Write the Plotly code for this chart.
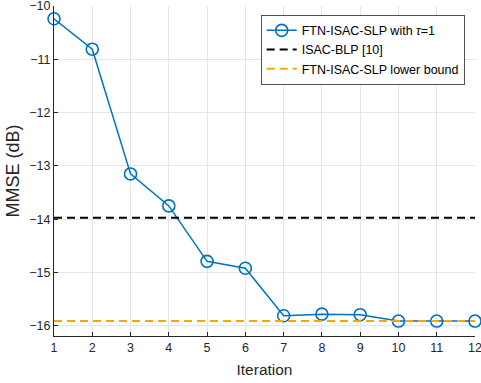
import plotly.graph_objects as go

iterations = [1, 2, 3, 4, 5, 6, 7, 8, 9, 10, 11, 12]
mmse_slp = [-10.24, -10.81, -13.15, -13.75, -14.79, -14.92, -15.81, -15.78, -15.79, -15.91, -15.91, -15.91]
blp_value = -13.97
lower_bound = -15.91
x_ticks = list(range(1, 13))
y_ticks = [-16, -15, -14, -13, -12, -11, -10]

FONT = "Arial, Liberation Sans"

fig = go.Figure()
fig.add_trace(go.Scatter(
    x=iterations, y=mmse_slp, mode="lines+markers",
    name="FTN-ISAC-SLP with <i>τ</i>=1",
    line=dict(color="#0072BD", width=1.5),
    marker=dict(symbol="circle-open", size=12, color="#0072BD", line=dict(width=1.6)),
    cliponaxis=False,
))
fig.add_trace(go.Scatter(
    x=[iterations[0], iterations[-1]], y=[blp_value, blp_value], mode="lines",
    name="ISAC-BLP [10]",
    line=dict(color="black", width=2, dash="8px,5px"),
))
fig.add_trace(go.Scatter(
    x=[iterations[0], iterations[-1]], y=[lower_bound, lower_bound], mode="lines",
    name="FTN-ISAC-SLP lower bound",
    line=dict(color="#FFA500", width=2, dash="8px,5px"),
))

axis_common = dict(
    showline=True, linecolor="#262626", linewidth=1,
    ticks="inside", ticklen=4, tickcolor="#262626",
    showgrid=True, gridcolor="#E6E6E6", gridwidth=1,
    zeroline=False, mirror=False, automargin=False,
    ticklabeloverflow="allow",
    tickfont=dict(family=FONT, size=12.5, color="#262626"),
)
fig.update_xaxes(range=[1, 12], tickvals=x_ticks,
                 title=dict(text="Iteration", standoff=10,
                            font=dict(family=FONT, size=15.5, color="#262626")),
                 **axis_common)
fig.update_yaxes(range=[-16.19, -10], tickvals=y_ticks,
                 title=dict(text="MMSE (dB)", standoff=4,
                            font=dict(family=FONT, size=18, color="#262626")),
                 **axis_common)

fig.update_layout(
    width=481, height=383,
    margin=dict(l=54, r=6, t=6, b=47),
    paper_bgcolor="white", plot_bgcolor="white",
    font=dict(family=FONT, color="#262626"),
    legend=dict(
        x=0.976, y=0.973, xanchor="right", yanchor="top",
        bgcolor="white", bordercolor="#262626", borderwidth=0.8,
        font=dict(family=FONT, size=12.5, color="black"),
        tracegroupgap=0, itemwidth=30,
    ),
    showlegend=True,
)

fig.write_html("out.html")
